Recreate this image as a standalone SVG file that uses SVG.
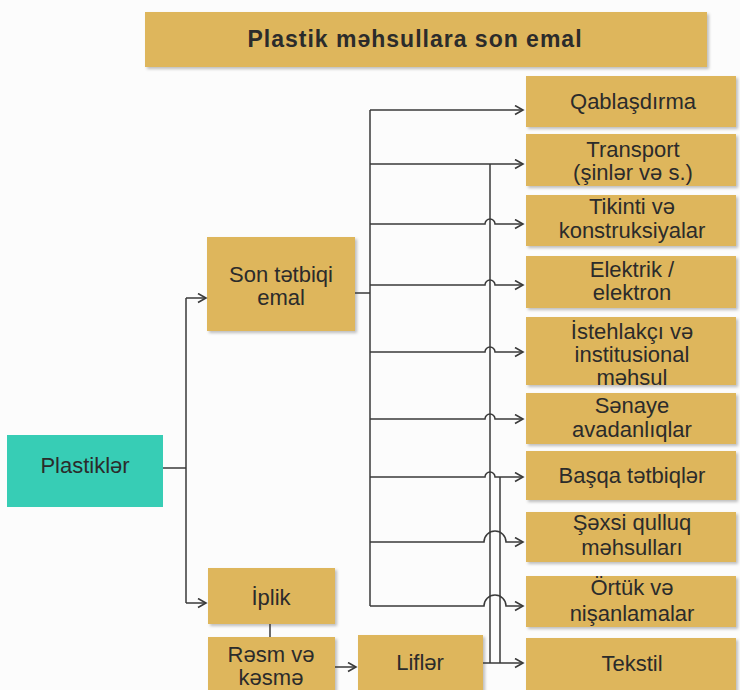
<svg xmlns="http://www.w3.org/2000/svg" width="740" height="690" viewBox="0 0 740 690">
<defs>
<filter id="sh" x="-5%" y="-5%" width="115%" height="120%">
<feDropShadow dx="2" dy="2" stdDeviation="1.5" flood-color="#000" flood-opacity="0.25"/>
</filter>
<marker id="ar" markerUnits="userSpaceOnUse" markerWidth="12" markerHeight="12" refX="9" refY="5.5" orient="auto">
<path d="M1,1 L9,5.5 L1,10" fill="none" stroke="#3a3a3a" stroke-width="1.6"/>
</marker>
<style>
.g{fill:#DEB65B;filter:url(#sh)}
.t{fill:#37CDB5}
text{font-family:"Liberation Sans",Arial,sans-serif;font-size:22px;fill:#2b2b2b;text-anchor:middle}
.b{font-weight:bold;font-size:23px;letter-spacing:1px}
.c{fill:none;stroke:#3a3a3a;stroke-width:1.5}
.a{marker-end:url(#ar)}
</style>
</defs>
<rect width="740" height="690" fill="#FCFCFC"/>
<g id="title"><rect class="g" x="145" y="12" width="562" height="55"/><text class="b" x="415" y="47">Plastik məhsullara son emal</text></g>
<g id="plastikler"><rect class="t" x="7" y="435" width="156" height="72"/><text x="85" y="473">Plastiklər</text></g>
<g id="son"><rect class="g" x="207" y="237" width="148" height="94"/><text x="281" y="282">Son tətbiqi</text><text x="281" y="305">emal</text></g>
<g id="iplik"><rect class="g" x="208" y="568" width="127" height="56"/><text x="271" y="605">İplik</text></g>
<g id="resm"><rect class="g" x="208" y="637" width="127" height="60"/><text x="271" y="662">Rəsm və</text><text x="271" y="685">kəsmə</text></g>
<g id="lifler"><rect class="g" x="358" y="635" width="125" height="62"/><text x="420" y="670">Liflər</text></g>
<g id="qablasdirma"><rect class="g" x="526" y="76" width="210" height="51"/><text x="633" y="109">Qablaşdırma</text></g>
<g id="transport"><rect class="g" x="526" y="134" width="210" height="52"/><text x="633" y="157">Transport</text><text x="633" y="180">(şinlər və s.)</text></g>
<g id="tikinti"><rect class="g" x="526" y="195" width="210" height="51"/><text x="632" y="214">Tikinti və</text><text x="632" y="238">konstruksiyalar</text></g>
<g id="elektrik"><rect class="g" x="526" y="256" width="210" height="52"/><text x="632" y="277">Elektrik /</text><text x="632" y="300">elektron</text></g>
<g id="istehlakci"><rect class="g" x="526" y="317" width="210" height="68"/><text x="632" y="339">İstehlakçı və</text><text x="632" y="362">institusional</text><text x="632" y="385">məhsul</text></g>
<g id="senaye"><rect class="g" x="526" y="393" width="210" height="51"/><text x="632" y="413">Sənaye</text><text x="632" y="437">avadanlıqlar</text></g>
<g id="basqa"><rect class="g" x="526" y="451" width="210" height="49"/><text x="632" y="483">Başqa tətbiqlər</text></g>
<g id="sexsi"><rect class="g" x="526" y="512" width="210" height="50"/><text x="632" y="530">Şəxsi qulluq</text><text x="632" y="555">məhsulları</text></g>
<g id="ortuk"><rect class="g" x="526" y="576" width="210" height="51"/><text x="632" y="595">Örtük və</text><text x="632" y="621">nişanlamalar</text></g>
<g id="tekstil"><rect class="g" x="526" y="638" width="210" height="60"/><text x="632" y="671">Tekstil</text></g>
<g id="connectors">
<path class="c" d="M163,468 H186 M186,298 V603 M270,624 V637 M355,293 H370 M370,110 V606 M490,164 V663 M500,477 V663"/>
<path class="c a" d="M186,298 H206"/>
<path class="c a" d="M186,603 H206"/>
<path class="c a" d="M335,667 H356"/>
<path class="c a" d="M370,110 H523"/>
<path class="c a" d="M370,164 H523"/>
<path class="c a" d="M370,224 H485 A5,5 0 0 1 495,224 H523"/>
<path class="c a" d="M370,285 H485 A5,5 0 0 1 495,285 H523"/>
<path class="c a" d="M370,352 H485 A5,5 0 0 1 495,352 H523"/>
<path class="c a" d="M370,419 H485 A5,5 0 0 1 495,419 H523"/>
<path class="c a" d="M370,477 H485 A5,5 0 0 1 495,477 H523"/>
<path class="c a" d="M370,542 H484 A11,11 0 0 1 506,542 H523"/>
<path class="c a" d="M370,606 H484 A11,11 0 0 1 506,606 H523"/>
<path class="c a" d="M483,663 H523"/>
</g>
</svg>
